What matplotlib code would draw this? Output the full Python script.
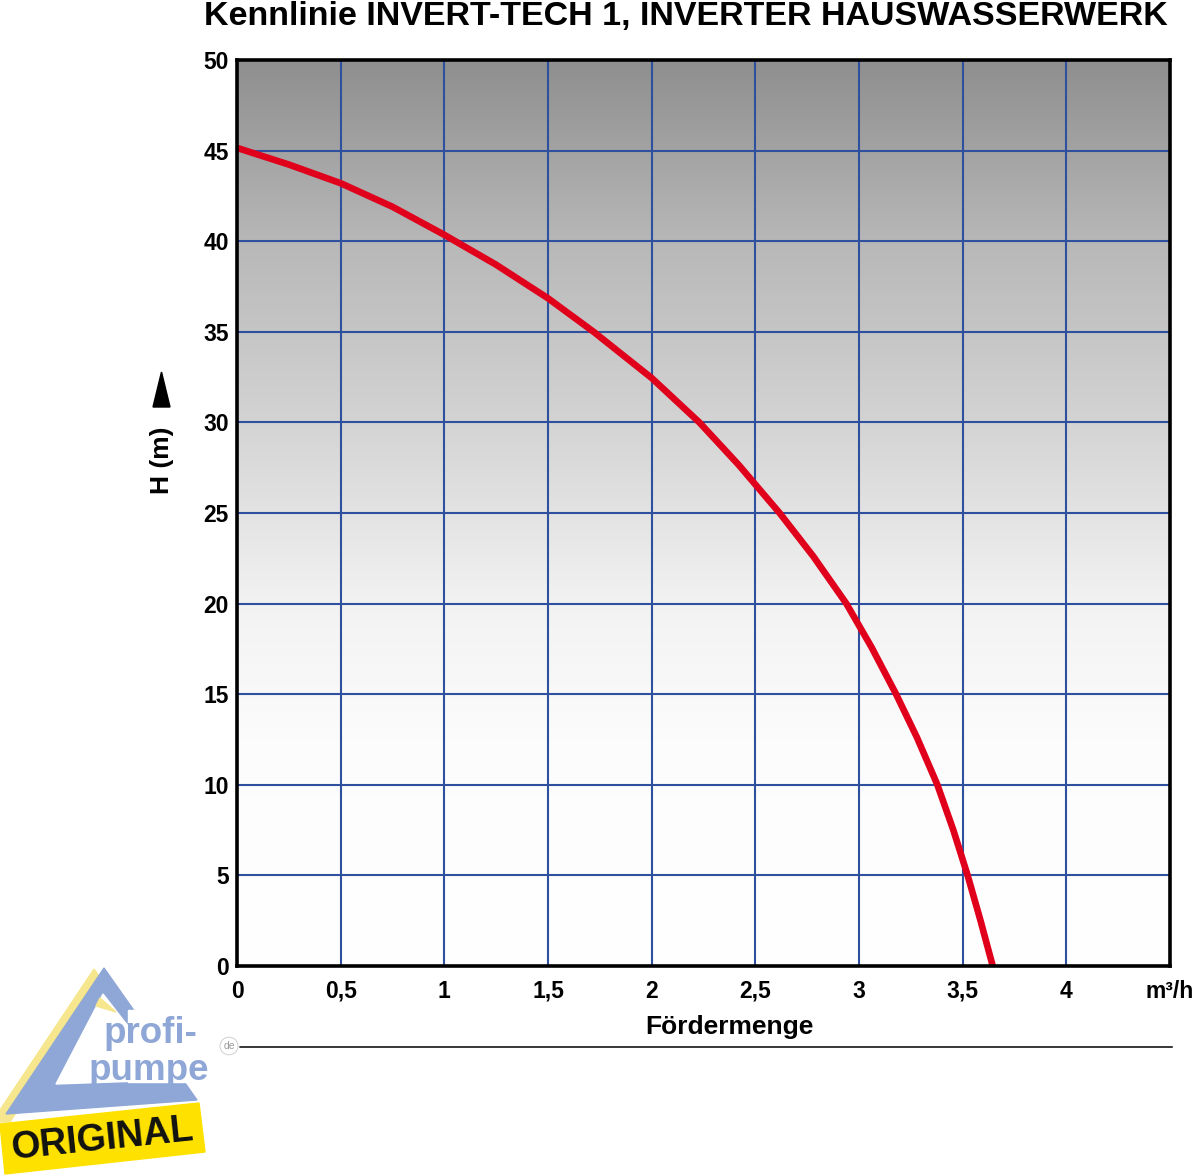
import matplotlib
matplotlib.use("Agg")
from matplotlib import pyplot as plt
from matplotlib.patches import Polygon, Circle, Rectangle
import numpy as np

# pump curve (flow m3/h, head m)
flow = [0, 0.25, 0.5, 0.75, 1.0, 1.25, 1.5, 1.72, 2.0, 2.23, 2.42, 2.617,
        2.78, 2.939, 3.06, 3.179, 3.28, 3.378, 3.455, 3.524, 3.585, 3.645]
head = [45.15, 44.23, 43.2, 41.9, 40.35, 38.7, 36.85, 35.0, 32.45, 30.0, 27.65, 25.0,
        22.6, 20.0, 17.6, 15.0, 12.6, 10.0, 7.5, 5.0, 2.55, 0.0]

x_ticks = [0, 0.5, 1, 1.5, 2, 2.5, 3, 3.5, 4, 4.5]
x_labels = ['0', '0,5', '1', '1,5', '2', '2,5', '3', '3,5', '4', 'm³/h']
y_ticks = [0, 5, 10, 15, 20, 25, 30, 35, 40, 45, 50]

title = 'Kennlinie INVERT-TECH 1, INVERTER HAUSWASSERWERK'

W, H = 1200, 1176
plt.rcParams['font.family'] = ['Liberation Sans', 'DejaVu Sans']

fig = plt.figure(figsize=(W / 100, H / 100), dpi=100)
fig.patch.set_facecolor('white')


def fx(px):
    return px / W


def fy(py):
    return 1 - py / H


ax = fig.add_axes([fx(237), fy(966), (1170 - 237) / W, (966 - 60) / H])

# grey to white background
yy = np.linspace(0, 50, 300)
grey = np.interp(yy, [0, 12, 20, 30, 40, 50], [1.0, 0.99, 0.95, 0.83, 0.72, 0.56])
img = np.dstack([grey, grey, grey]).reshape(300, 1, 3)
ax.imshow(img, extent=[0, 4.5, 0, 50], origin='lower', aspect='auto', zorder=0,
          interpolation='bilinear')

ax.set_xlim(0, 4.5)
ax.set_ylim(0, 50)
ax.set_xticks(x_ticks)
ax.set_xticklabels(x_labels)
ax.set_yticks(y_ticks)
ax.tick_params(length=0, labelsize=16.5)
ax.tick_params(axis='x', pad=10)
ax.tick_params(axis='y', pad=6)
for lab in ax.get_xticklabels() + ax.get_yticklabels():
    lab.set_fontweight('bold')

ax.grid(True, color='#2f4f9f', linewidth=1.5, zorder=1)
ax.set_axisbelow(False)
for s in ax.spines.values():
    s.set_linewidth(2.6)
    s.set_color('black')
    s.set_zorder(5)

ax.plot(flow, head, color='#e0001b', linewidth=4.8, solid_capstyle='butt',
        solid_joinstyle='round', zorder=3)

fig.text(fx(729), fy(1027), 'Fördermenge', fontsize=19, fontweight='bold',
         ha='center', va='center')

fig.text(fx(686), fy(25), title, fontsize=24.5, fontweight='bold',
         ha='center', va='baseline')

# y label with arrow
fig.text(fx(162), fy(460), 'H (m)', fontsize=19, fontweight='bold', rotation=90,
         ha='center', va='center')
fig.add_artist(Polygon([[fx(153), fy(407)], [fx(170), fy(407)], [fx(161.5), fy(372)]],
                       closed=True, transform=fig.transFigure, color='black'))

# line under the axis title
fig.add_artist(plt.Line2D([fx(240), fx(1172)], [fy(1047), fy(1047)],
                          transform=fig.transFigure, color='black', linewidth=1.1))

# logo
blue = '#8fa7d6'
pale = '#f6e68e'
fig.add_artist(Polygon([[fx(94), fy(969)], [fx(0), fy(1110)], [fx(0), fy(1122)], [fx(10), fy(1122)],
                        [fx(102), fy(980)]],
                       closed=True, transform=fig.transFigure, color=pale, zorder=1))
fig.add_artist(Polygon([[fx(104), fy(968)], [fx(6), fy(1114)], [fx(197), fy(1100)]],
                       closed=True, transform=fig.transFigure, color=blue, zorder=2))
fig.add_artist(Polygon([[fx(103), fy(994)], [fx(56), fy(1084)], [fx(170), fy(1080)]],
                       closed=True, transform=fig.transFigure, color='white', zorder=3))
fig.add_artist(Polygon([[fx(100), fy(998)], [fx(96), fy(1006)], [fx(116), fy(1012)]],
                       closed=True, transform=fig.transFigure, color=pale, zorder=3))
fig.add_artist(Rectangle((fx(128), fy(1082)), 110 / W, (1082 - 1010) / H,
                         transform=fig.transFigure, color='white', zorder=3))
fig.text(fx(150), fy(1043), 'profi-', fontsize=26.5, fontweight='bold', color=blue,
         ha='center', va='baseline', zorder=4)
fig.text(fx(149), fy(1080), 'pumpe', fontsize=26.5, fontweight='bold', color=blue,
         ha='center', va='baseline', zorder=4)
fig.add_artist(Circle((fx(229), fy(1046)), 0.0075, transform=fig.transFigure,
                      facecolor='white', edgecolor='#c8c8c8', linewidth=0.6, zorder=4))
fig.text(fx(229), fy(1046), 'de', fontsize=7.5, color='#9a9a9a', ha='center', va='center', zorder=5)
fig.add_artist(Polygon([[fx(0), fy(1124)], [fx(199), fy(1103)], [fx(205), fy(1152)], [fx(5), fy(1174)]],
                       closed=True, transform=fig.transFigure, color='#ffe100', zorder=4))
fig.text(fx(103), fy(1139), 'ORIGINAL', fontsize=27, fontweight='bold', color='#111111',
         ha='center', va='center', rotation=6, zorder=5)

plt.savefig('out.png', dpi=100)
